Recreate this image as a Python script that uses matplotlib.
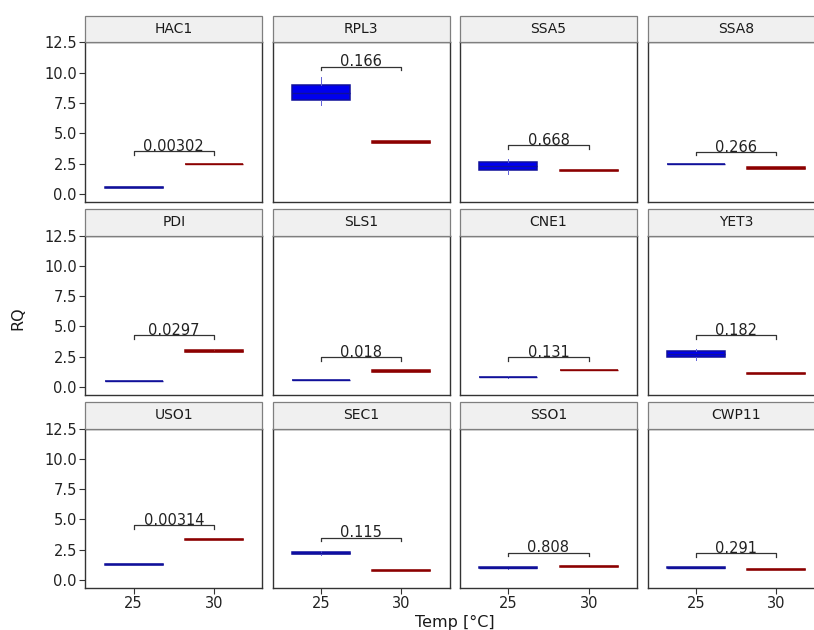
import matplotlib
matplotlib.use("Agg")
import matplotlib.pyplot as plt
from matplotlib.patches import Rectangle

# the reference text is wide, DejaVu Sans gets closer than an Arial clone
plt.rcParams['font.family'] = ['DejaVu Sans']

# data (RQ per gene, box stats for 25 and 30 degC)
genes = ['HAC1', 'RPL3', 'SSA5', 'SSA8',
         'PDI', 'SLS1', 'CNE1', 'YET3',
         'USO1', 'SEC1', 'SSO1', 'CWP11']
temps = ['25', '30']

med_25 = [0.55, 8.35, 2.30, 2.45, 0.50, 0.58, 0.82, 2.70, 1.28, 2.25, 1.00, 1.03]
q1_25 = [0.51, 7.75, 1.95, 2.44, 0.49, 0.57, 0.81, 2.45, 1.27, 2.15, 0.97, 1.02]
q3_25 = [0.59, 8.95, 2.65, 2.47, 0.51, 0.59, 0.84, 2.95, 1.29, 2.35, 1.04, 1.04]
lo_25 = [0.51, 7.35, 1.65, 2.44, 0.49, 0.57, 0.78, 2.20, 1.27, 2.10, 0.93, 1.02]
hi_25 = [0.59, 9.60, 2.90, 2.47, 0.51, 0.59, 0.90, 3.10, 1.29, 2.40, 1.08, 1.04]

med_30 = [2.45, 4.30, 1.93, 2.15, 3.00, 1.32, 1.40, 1.12, 3.35, 0.80, 1.13, 0.87]
q1_30 = [2.43, 4.22, 1.88, 2.07, 2.88, 1.27, 1.38, 1.09, 3.32, 0.76, 1.09, 0.84]
q3_30 = [2.47, 4.36, 1.98, 2.23, 3.08, 1.38, 1.43, 1.15, 3.38, 0.84, 1.18, 0.90]
lo_30 = [2.43, 4.22, 1.88, 2.07, 2.88, 1.27, 1.38, 1.09, 3.32, 0.76, 1.09, 0.84]
hi_30 = [2.47, 4.36, 1.98, 2.23, 3.15, 1.38, 1.43, 1.15, 3.38, 0.84, 1.18, 0.90]

p_labels = ['0.00302', '0.166', '0.668', '0.266',
            '0.0297', '0.018', '0.131', '0.182',
            '0.00314', '0.115', '0.808', '0.291']
bracket_y = [3.5, 10.5, 4.0, 3.45, 4.25, 2.45, 2.45, 4.25, 4.5, 3.5, 2.25, 2.2]

y_ticks = [0.0, 2.5, 5.0, 7.5, 10.0, 12.5]

fill_cols = ['#0000EE', '#A00000']
edge_cols = ['#10109A', '#8B0000']
whisk_cols = ['#6060D8', '#B04040']

W, H = 814, 630
fig = plt.figure(figsize=(W / 100, H / 100), dpi=100)
fig.patch.set_facecolor('white')

col_left = [85.3, 272.5, 460.0, 647.5]
panel_w = 177.0
row_top = [42.3, 235.5, 428.5]
panel_h = 159.5
strip_h = 26.8


def fig_box(x0, y0, w, h):
    return [x0 / W, 1 - (y0 + h) / H, w / W, h / H]


for i, gene in enumerate(genes):
    r, c = divmod(i, 4)
    ax = fig.add_axes(fig_box(col_left[c], row_top[r], panel_w, panel_h))

    stats = [
        dict(med=med_25[i], q1=q1_25[i], q3=q3_25[i], whislo=lo_25[i], whishi=hi_25[i], fliers=[]),
        dict(med=med_30[i], q1=q1_30[i], q3=q3_30[i], whislo=lo_30[i], whishi=hi_30[i], fliers=[]),
    ]
    bp = ax.bxp(stats, positions=[1, 2], widths=0.72, patch_artist=True,
                showfliers=False, showcaps=False)
    for k in range(2):
        bp['boxes'][k].set_facecolor(fill_cols[k])
        bp['boxes'][k].set_edgecolor(edge_cols[k])
        bp['boxes'][k].set_linewidth(1.1)
        bp['medians'][k].set_color(edge_cols[k])
        bp['medians'][k].set_linewidth(1.0)
        for wl in bp['whiskers'][2 * k:2 * k + 2]:
            wl.set_color(whisk_cols[k])
            wl.set_linewidth(0.7)

    # significance bracket
    h = bracket_y[i]
    ax.plot([1, 1, 2, 2], [h - 0.28, h, h, h - 0.28], color='#333333', lw=0.9)
    ax.text(1.5, h + 0.02, p_labels[i], ha='center', va='baseline',
            fontsize=10.5, color='#222222')

    ax.set_xlim(0.4, 2.6)
    ax.set_ylim(-0.66, 12.5)
    ax.set_yticks(y_ticks)
    ax.set_xticks([1, 2])
    for sp in ax.spines.values():
        sp.set_color('#333333')
        sp.set_linewidth(1.0)
    ax.tick_params(length=4, width=0.8, color='#333333', labelsize=10.5,
                   labelcolor='#222222', pad=2)
    if c == 0:
        ax.set_yticklabels([f'{v:.1f}' for v in y_ticks])
    else:
        ax.tick_params(axis='y', length=0, labelleft=False)
    if r == 2:
        ax.set_xticklabels(temps)
    else:
        ax.tick_params(axis='x', length=0, labelbottom=False)

    # facet strip
    x0, y0 = col_left[c], row_top[r] - strip_h
    fig.patches.append(Rectangle((x0 / W, 1 - row_top[r] / H), panel_w / W, strip_h / H,
                                 transform=fig.transFigure, facecolor='#F0F0F0',
                                 edgecolor='#7F7F7F', linewidth=0.9))
    fig.text((x0 + panel_w / 2) / W, 1 - (y0 + strip_h / 2) / H, gene,
             ha='center', va='center', fontsize=10, color='#1A1A1A')

fig.text(18 / W, 1 - 318 / H, 'RQ', rotation=90, ha='center', va='center',
         fontsize=11.5, color='#1A1A1A')
fig.text(455 / W, 1 - 622 / H, 'Temp [°C]', ha='center', va='center',
         fontsize=11.5, color='#1A1A1A')

fig.savefig('out.png', dpi=100, facecolor='white')
